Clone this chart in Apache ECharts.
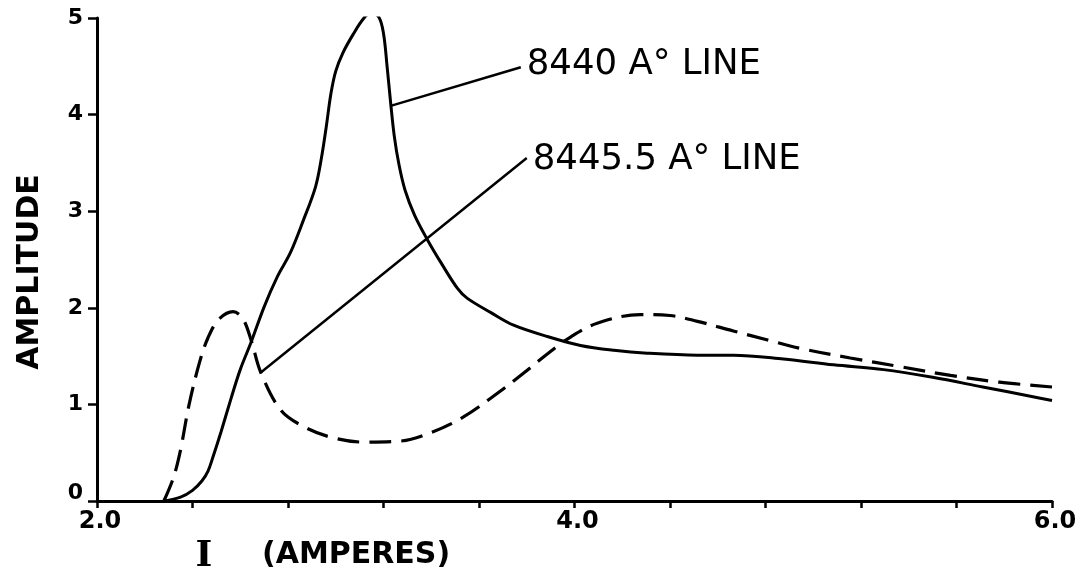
<!DOCTYPE html>
<html>
<head>
<meta charset="utf-8">
<script src="https://cdn.jsdelivr.net/npm/echarts@6/dist/echarts.min.js"></script>
<style>
  html, body { margin: 0; padding: 0; background: #fff; }
  #chart { width: 1084px; height: 571px; }
</style>
</head>
<body>
<div id="chart"></div>
<script>
// Current (amperes) and amplitude samples for the 8440 Å line (solid curve)
const current8440 = [2.28, 2.35, 2.40, 2.44, 2.465, 2.485, 2.52, 2.56, 2.60, 2.645, 2.70, 2.755, 2.81, 2.865, 2.915, 2.94, 2.96, 2.98, 3.0, 3.03, 3.075, 3.115, 3.145, 3.18, 3.20, 3.215, 3.23, 3.245, 3.265, 3.29, 3.33, 3.385, 3.44, 3.51, 3.55, 3.65, 3.745, 3.89, 4.025, 4.165, 4.305, 4.515, 4.665, 4.875, 5.085, 5.295, 5.50, 5.71, 5.92, 6.0];
const amplitude8440 = [0, 0.04, 0.11, 0.21, 0.31, 0.45, 0.72, 1.05, 1.36, 1.64, 2.01, 2.32, 2.57, 2.91, 3.25, 3.55, 3.87, 4.22, 4.45, 4.64, 4.84, 4.99, 5.05, 5.01, 4.84, 4.5, 4.12, 3.78, 3.48, 3.22, 2.96, 2.70, 2.47, 2.20, 2.10, 1.95, 1.82, 1.70, 1.61, 1.56, 1.53, 1.51, 1.51, 1.47, 1.41, 1.36, 1.28, 1.18, 1.08, 1.04];

// Current (amperes) and amplitude samples for the 8445.5 Å line (dashed curve)
const current8445 = [2.28, 2.32, 2.35, 2.385, 2.43, 2.465, 2.51, 2.57, 2.61, 2.645, 2.686, 2.77, 2.866, 2.98, 3.115, 3.27, 3.40, 3.535, 3.68, 3.79, 3.89, 3.985, 4.095, 4.275, 4.40, 4.515, 4.665, 4.805, 4.945, 5.155, 5.365, 5.575, 5.78, 6.0];
const amplitude8445 = [0, 0.24, 0.53, 0.99, 1.44, 1.69, 1.88, 1.96, 1.89, 1.67, 1.33, 0.94, 0.77, 0.66, 0.61, 0.62, 0.71, 0.87, 1.12, 1.33, 1.53, 1.70, 1.84, 1.93, 1.92, 1.86, 1.76, 1.67, 1.58, 1.48, 1.39, 1.30, 1.23, 1.18];

// Callout leader lines: [current, amplitude] of start (on curve) and end (at text)
const leader8440 = [[3.23, 4.09], [3.775, 4.49]];
const leader8445 = [[2.686, 1.33], [3.80, 3.55]];
const calloutTexts = ['8440 A° LINE', '8445.5 A° LINE'];

// Axis tick labels
const xTickLabels = ['2.0', '4.0', '6.0'];
const yTickLabels = ['0', '1', '2', '3', '4', '5'];

const zip = (xs, ys) => xs.map((x, i) => [x, ys[i]]);

const INK = '#000';
const chart = echarts.init(document.getElementById('chart'), null, { renderer: 'canvas' });

function leaderSeries(points, text, dy) {
  return {
    type: 'line',
    data: [
      { value: points[0] },
      {
        value: points[1],
        label: {
          show: true,
          position: 'right',
          distance: 6,
          offset: [0, dy],
          formatter: text,
          color: INK,
          fontFamily: 'DejaVu Sans',
          fontSize: 35.5,
          fontWeight: 'normal'
        }
      }
    ],
    showSymbol: true,
    symbol: 'circle',
    symbolSize: 0,
    itemStyle: { color: INK },
    lineStyle: { color: INK, width: 2.5 },
    silent: true,
    z: 3
  };
}

chart.setOption({
  animation: false,
  backgroundColor: '#fff',
  grid: { left: 97, right: 32, top: 18, bottom: 70 },
  xAxis: {
    type: 'value',
    min: 2.0,
    max: 6.0,
    interval: 0.4,
    axisLine: { show: true, lineStyle: { color: INK, width: 3 } },
    axisTick: { show: true, length: 7, lineStyle: { color: INK, width: 2.5 } },
    splitLine: { show: false },
    axisLabel: {
      margin: 9,
      color: INK,
      fontFamily: 'DejaVu Sans',
      fontWeight: 'bold',
      fontSize: 24,
      padding: [0, 0, 0, 6],
      formatter: v => {
        const s = v.toFixed(1);
        return xTickLabels.includes(s) ? s : '';
      }
    }
  },
  yAxis: {
    type: 'value',
    min: 0,
    max: 5,
    interval: 1,
    axisLine: { show: true, lineStyle: { color: INK, width: 3 } },
    axisTick: { show: true, length: 9, lineStyle: { color: INK, width: 2.5 } },
    splitLine: { show: false },
    axisLabel: {
      margin: 14,
      color: INK,
      fontFamily: 'DejaVu Sans',
      fontWeight: 'bold',
      fontSize: 22,
      formatter: v => {
        const s = yTickLabels[Math.round(v)] || '';
        return v === 0 ? '{z|' + s + '}' : s;
      },
      rich: {
        z: {
          color: INK,
          fontFamily: 'DejaVu Sans',
          fontWeight: 'bold',
          fontSize: 22,
          padding: [0, 0, 16, 0]
        }
      }
    }
  },
  series: [
    {
      name: '8440 A° LINE',
      type: 'line',
      data: zip(current8440, amplitude8440),
      smooth: 0.35,
      showSymbol: false,
      lineStyle: { color: INK, width: 3 },
      z: 2
    },
    {
      name: '8445.5 A° LINE',
      type: 'line',
      data: zip(current8445, amplitude8445),
      smooth: 0.35,
      showSymbol: false,
      lineStyle: { color: INK, width: 3.2, type: [22, 10] },
      z: 2
    },
    leaderSeries(leader8440, calloutTexts[0], -2),
    leaderSeries(leader8445, calloutTexts[1], 2)
  ],
  graphic: [
    {
      type: 'text',
      x: 30,
      y: 272,
      rotation: Math.PI / 2,
      style: {
        text: 'AMPLITUDE',
        fill: INK,
        font: 'bold 30px "DejaVu Sans"',
        align: 'center',
        verticalAlign: 'middle'
      }
    },
    {
      type: 'text',
      x: 204,
      y: 557,
      style: {
        text: 'I',
        fill: INK,
        font: 'bold 36px "DejaVu Serif"',
        align: 'center',
        verticalAlign: 'middle'
      }
    },
    {
      type: 'text',
      x: 262,
      y: 555,
      style: {
        text: '(AMPERES)',
        fill: INK,
        font: 'bold 30px "DejaVu Sans"',
        align: 'left',
        verticalAlign: 'middle'
      }
    }
  ]
});
</script>
</body>
</html>
